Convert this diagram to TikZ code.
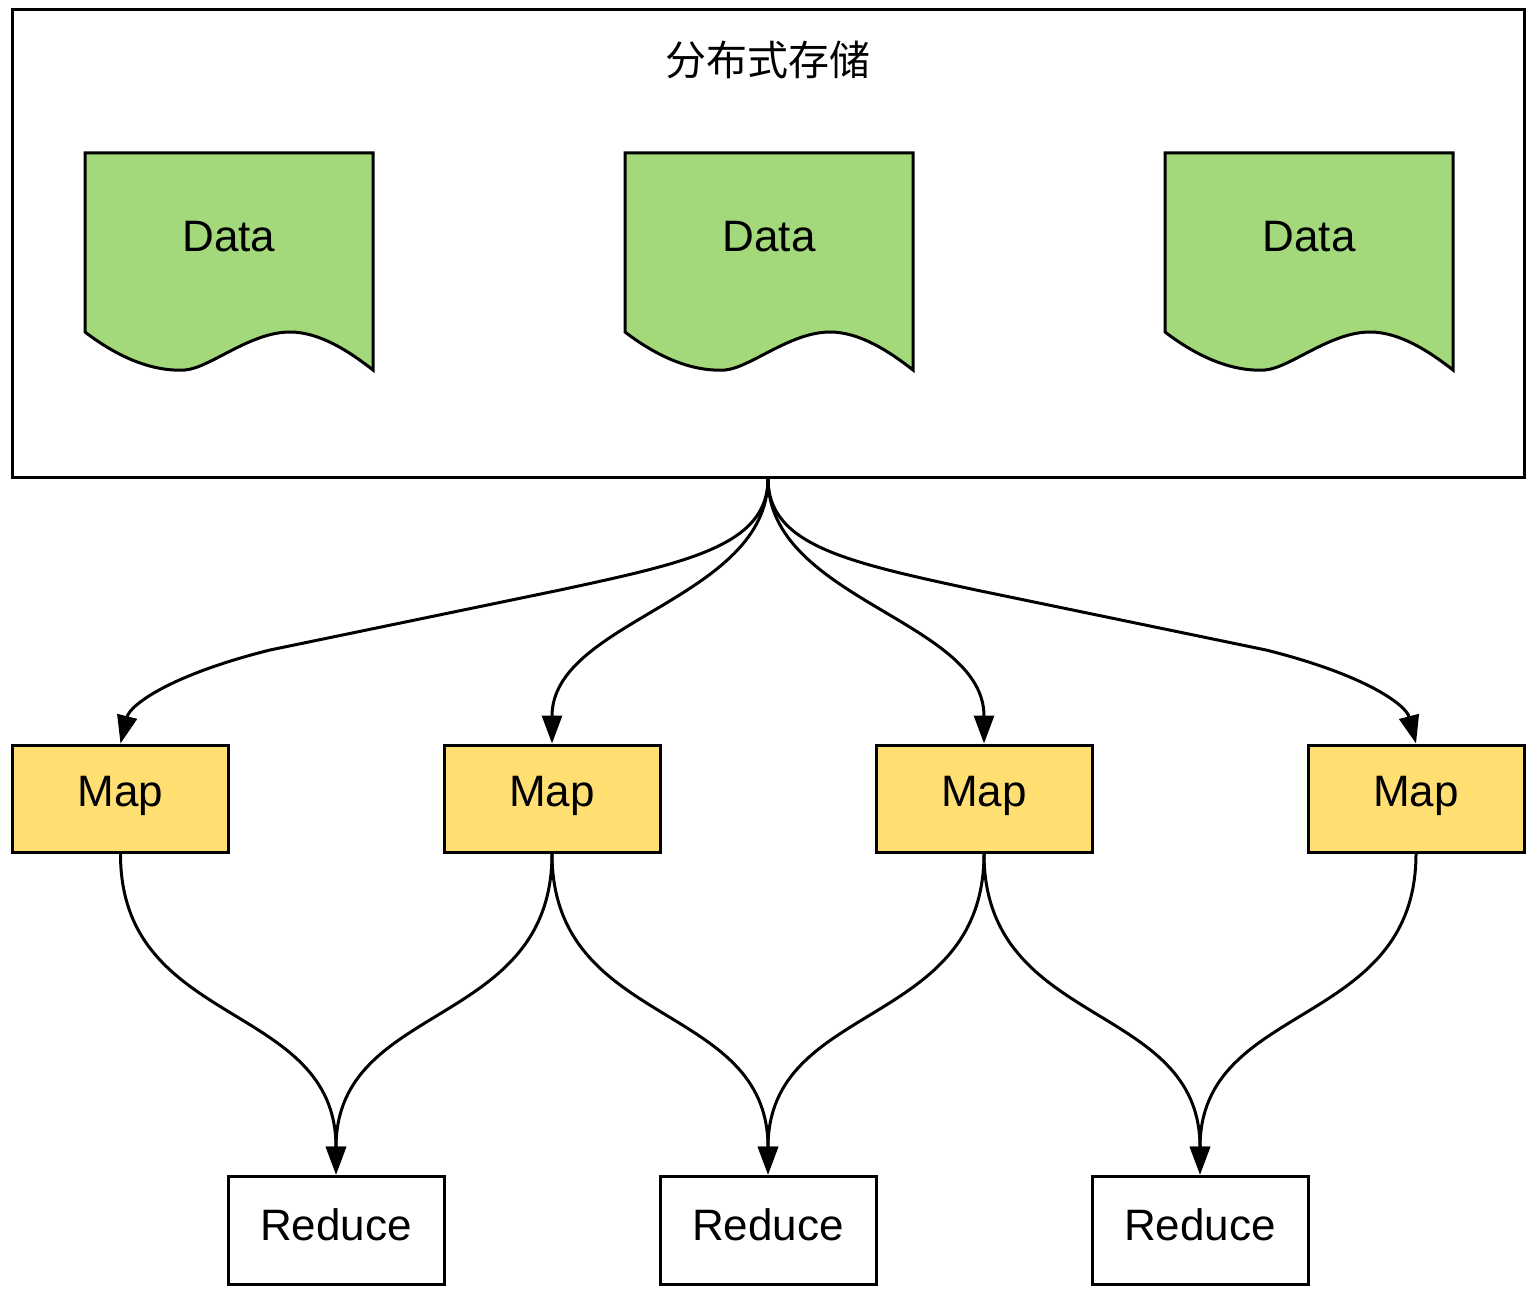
\documentclass[tikz,border=0pt]{standalone}
\usepackage{fontspec}
\setmainfont{Liberation Sans}
\newfontfamily\cjk{Noto Sans CJK SC}
\usetikzlibrary{arrows.meta}
\definecolor{docgreen}{HTML}{A3D97A}
\definecolor{mapyellow}{HTML}{FFDF71}
\tikzset{
  lw/.style={line width=1.5pt},
  lbl/.style={font=\fontsize{22pt}{26pt}\selectfont, inner sep=0pt},
  mapbox/.style={lw, draw=black, fill=mapyellow, minimum width=108pt, minimum height=53.5pt, inner sep=0pt},
  redbox/.style={lw, draw=black, fill=white, minimum width=108pt, minimum height=54pt, inner sep=0pt},
  storebox/.style={lw, draw=black, fill=white, minimum width=756pt, minimum height=233.5pt, inner sep=0pt},
  doc/.style={lw, draw=black, fill=docgreen},
  conn/.style={lw, -{Triangle[length=14pt,width=10pt]}},
}
\begin{document}
\begin{tikzpicture}[x=0.5pt, y=-0.5pt]
\useasboundingbox (0,0) rectangle (1540,1300);
\node[storebox] (store) at (768,243.5) {};
\node[font=\cjk\fontsize{20.5pt}{24pt}\selectfont, inner sep=0pt] (title) at (768,60) {分布式存储};
\foreach \dx/\nm in {0/d1,540/d2,1080/d3}{
  \begin{scope}[xshift=\dx*0.5pt]
  \draw[doc] (85,153) -- (373,153) -- (373,370)
     .. controls (350,352) and (320,332) .. (290,332)
     .. controls (250,332) and (210,368) .. (185,370)
     .. controls (150,372) and (115,355) .. (85,332) -- cycle;
  \node[lbl] (\nm) at (229,237) {Data};
  \end{scope}
}
\node[mapbox] (m1) at (120.5,798.5) {};
\node[mapbox] (m2) at (552,798.5) {};
\node[mapbox] (m3) at (984,798.5) {};
\node[mapbox] (m4) at (1416,798.5) {};
\node[redbox] (r1) at (336,1230) {};
\node[redbox] (r2) at (768,1230) {};
\node[redbox] (r3) at (1200,1230) {};
\foreach \n in {m1,m2,m3,m4}{ \node[lbl] (\n t) at ([yshift=1.2pt]\n.center) {Map}; }
\foreach \n in {r1,r2,r3}{ \node[lbl] (\n t) at ([yshift=2.5pt]\n.center) {Reduce}; }
% storage to maps
\draw[conn] (store.south) .. controls (768,545) and (690,562) .. (560,590) -- (270,650) .. controls (170,675) and (130,705) .. (m1.north);
\draw[conn] (store.south) .. controls (768,600) and (552,620) .. (m2.north);
\draw[conn] (store.south) .. controls (768,600) and (984,620) .. (m3.north);
\draw[conn] (store.south) .. controls (768,545) and (846,562) .. (976,590) -- (1266,650) .. controls (1366,675) and (1406,705) .. (m4.north);
% maps to reduces
\draw[conn] (m1.south) .. controls (120,1030) and (336,1000) .. (r1.north);
\draw[conn] (m2.south) .. controls (552,1030) and (336,1000) .. (r1.north);
\draw[conn] (m2.south) .. controls (552,1030) and (768,1000) .. (r2.north);
\draw[conn] (m3.south) .. controls (984,1030) and (768,1000) .. (r2.north);
\draw[conn] (m3.south) .. controls (984,1030) and (1200,1000) .. (r3.north);
\draw[conn] (m4.south) .. controls (1416,1030) and (1200,1000) .. (r3.north);
\end{tikzpicture}
\end{document}
